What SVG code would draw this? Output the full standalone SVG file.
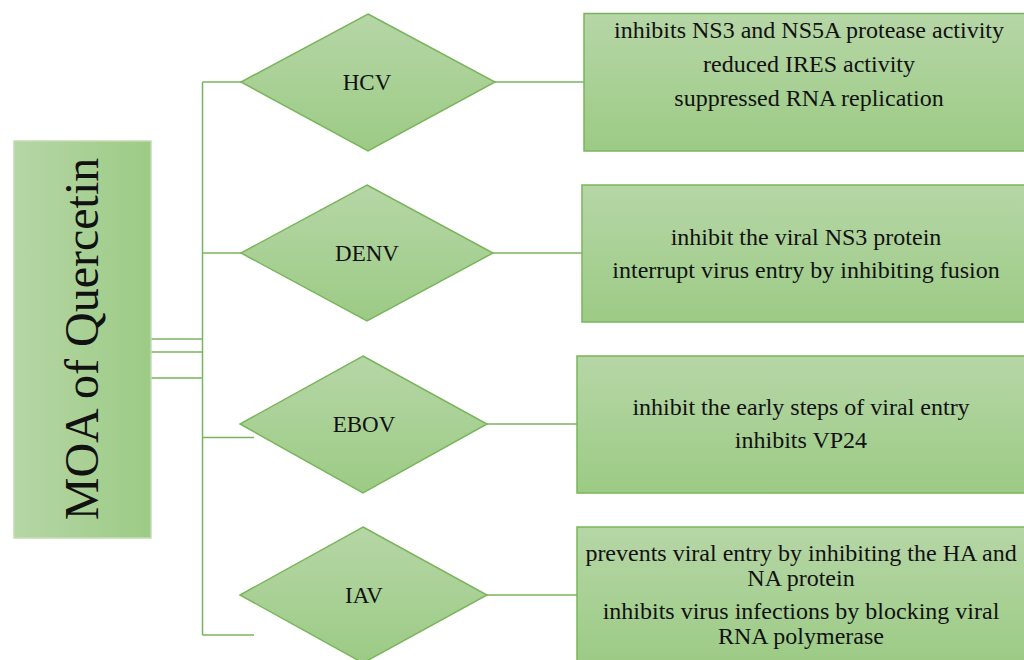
<svg xmlns="http://www.w3.org/2000/svg" width="1024" height="660" viewBox="0 0 1024 660">
<defs>
<linearGradient id="gv" x1="0" y1="0" x2="0" y2="1">
<stop offset="0" stop-color="#b6d6a6"/>
<stop offset="1" stop-color="#9ccb85"/>
</linearGradient>
<linearGradient id="gh" x1="0" y1="0" x2="1" y2="0">
<stop offset="0" stop-color="#b6d6a6"/>
<stop offset="1" stop-color="#9ccb85"/>
</linearGradient>
<style>
.shape{fill:url(#gv);stroke:#7ab55c;stroke-width:1.5}
.main{fill:url(#gh);stroke:#c3dcb3;stroke-width:1.5}
.conn{fill:none;stroke:#7ab55c;stroke-width:1.5}
text{font-family:"Liberation Serif","Times New Roman",serif;fill:#111;text-anchor:middle}
.t{font-size:24px}
.d{font-size:23px}
</style>
</defs>
<rect width="1024" height="660" fill="#fff"/>
<g id="connectors">
<line class="conn" x1="202.5" y1="82" x2="202.5" y2="635"/>
<line class="conn" x1="151" y1="339" x2="202.5" y2="339"/>
<line class="conn" x1="151" y1="352" x2="202.5" y2="352"/>
<line class="conn" x1="151" y1="378" x2="202.5" y2="378"/>
<line class="conn" x1="202.5" y1="82" x2="241" y2="82"/>
<line class="conn" x1="202.5" y1="253" x2="241" y2="253"/>
<line class="conn" x1="202.5" y1="437.5" x2="254" y2="437.5"/>
<line class="conn" x1="202.5" y1="635" x2="254" y2="635"/>
<line class="conn" x1="495" y1="82" x2="584" y2="82"/>
<line class="conn" x1="493" y1="253" x2="582" y2="253"/>
<line class="conn" x1="487" y1="424" x2="577" y2="424"/>
<line class="conn" x1="487" y1="595" x2="577" y2="595"/>
</g>
<g id="moa">
<rect class="main" x="14" y="141" width="137" height="397"/>
<text transform="translate(98,339) rotate(-90)" font-size="48">MOA of Quercetin</text>
</g>
<g id="hcv">
<polygon class="shape" points="368,14 495,82 368,151 241,82"/>
<text class="d" x="367" y="90">HCV</text>
</g>
<g id="denv">
<polygon class="shape" points="367,185 493,253 367,321 241,253"/>
<text class="d" x="367" y="261">DENV</text>
</g>
<g id="ebov">
<polygon class="shape" points="363,356 487,424 363,493 240,424"/>
<text class="d" x="364" y="432">EBOV</text>
</g>
<g id="iav">
<polygon class="shape" points="363,527 487,595 363,663 240,595"/>
<text class="d" x="364" y="603">IAV</text>
</g>
<g id="hcv-box">
<rect class="shape" x="584" y="13.5" width="450" height="137.5"/>
<text class="t" x="809" y="38">inhibits NS3 and NS5A protease activity</text>
<text class="t" x="809" y="72">reduced IRES activity</text>
<text class="t" x="809" y="106">suppressed RNA replication</text>
</g>
<g id="denv-box">
<rect class="shape" x="582" y="185" width="450" height="137"/>
<text class="t" x="806" y="245">inhibit the viral NS3 protein</text>
<text class="t" x="806" y="278">interrupt virus entry by inhibiting fusion</text>
</g>
<g id="ebov-box">
<rect class="shape" x="577" y="356" width="450" height="137"/>
<text class="t" x="801" y="415">inhibit the early steps of viral entry</text>
<text class="t" x="801" y="448">inhibits VP24</text>
</g>
<g id="iav-box">
<rect class="shape" x="577" y="527" width="450" height="137"/>
<text class="t" x="801" y="561">prevents viral entry by inhibiting the HA and</text>
<text class="t" x="801" y="586">NA protein</text>
<text class="t" x="801" y="619">inhibits virus infections by blocking viral</text>
<text class="t" x="801" y="644">RNA polymerase</text>
</g>
</svg>
